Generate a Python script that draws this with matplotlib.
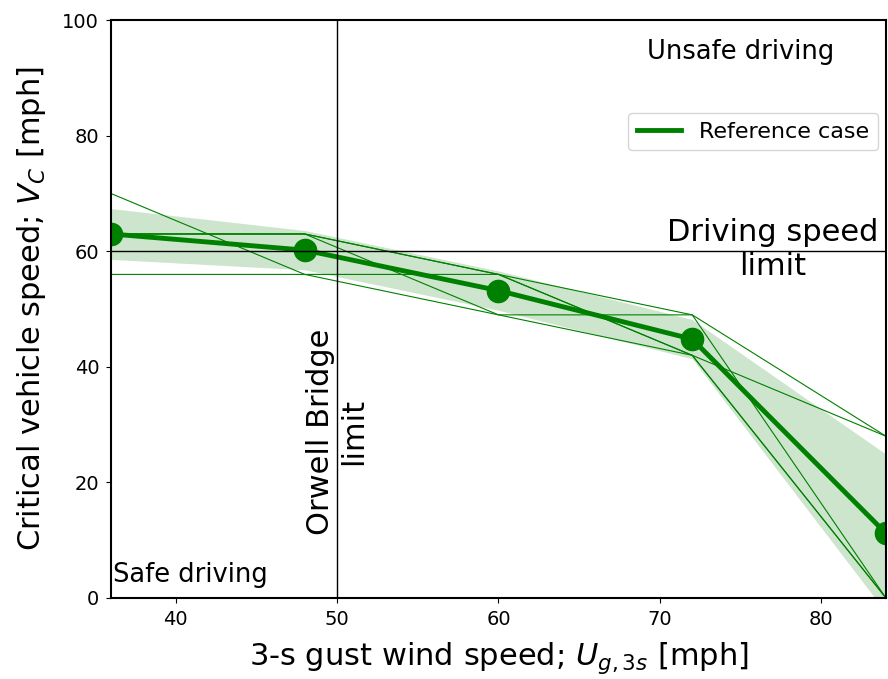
import numpy as np
import matplotlib
matplotlib.use('Agg')
import matplotlib.pyplot as plt

# gust wind speeds [mph]
gust = [36, 48, 60, 72, 84]

# critical vehicle speed for each sensitivity case [mph]
case_a = [70, 56, 49, 49, 28]
case_b = [56, 56, 56, 49, 0]
case_c = [63, 63, 56, 42, 28]
case_d = [63, 63, 56, 42, 0]
case_e = [63, 63, 49, 42, 0]
cases = [case_a, case_b, case_c, case_d, case_e]

# reference case and spread band
ref_case = [63.0, 60.2, 53.2, 44.8, 11.2]
band_low = [58.6, 56.8, 49.8, 41.4, -2.5]
band_high = [67.4, 63.6, 56.6, 48.2, 24.9]

bridge_limit = 50
speed_limit = 60

fig = plt.figure(figsize=(8.88, 6.79), dpi=100)
ax = fig.add_axes([0.125, 0.1193, 0.8727, 0.851])

ax.fill_between(gust, band_low, band_high, color='green', alpha=0.2, linewidth=0)
for c in cases:
    ax.plot(gust, c, color='green', linewidth=0.8)
ax.plot(gust, ref_case, color='green', linewidth=3.5, label='Reference case')
ax.plot(gust, ref_case, 'o', color='green', markersize=16)

ax.axvline(bridge_limit, color='black', linewidth=1)
ax.axhline(speed_limit, color='black', linewidth=1)

ax.text(bridge_limit, 28.8, 'Orwell Bridge\nlimit', rotation=90, ha='center',
        va='center', fontsize=22)
ax.text(77, 60.3, 'Driving speed\nlimit', ha='center', va='center', fontsize=22)
ax.text(75, 94.5, 'Unsafe driving', ha='center', va='center', fontsize=18.5)
ax.text(36.1, 4, 'Safe driving', ha='left', va='center', fontsize=18.5)

ax.set_xlim(36, 84)
ax.set_ylim(0, 100)
ax.set_xticks([40, 50, 60, 70, 80])
ax.set_yticks([0, 20, 40, 60, 80, 100])
ax.tick_params(labelsize=14, pad=5)
for s in ax.spines.values():
    s.set_linewidth(1.5)

ax.set_xlabel('3-s gust wind speed; $U_{g,3s}$ [mph]', fontsize=22, labelpad=8)
ax.set_ylabel('Critical vehicle speed; $V_C$ [mph]', fontsize=22, labelpad=10)
ax.legend(loc='upper right', bbox_to_anchor=(0.99, 0.84), borderaxespad=0,
          fontsize=16)

fig.savefig('out.png', dpi=100)
